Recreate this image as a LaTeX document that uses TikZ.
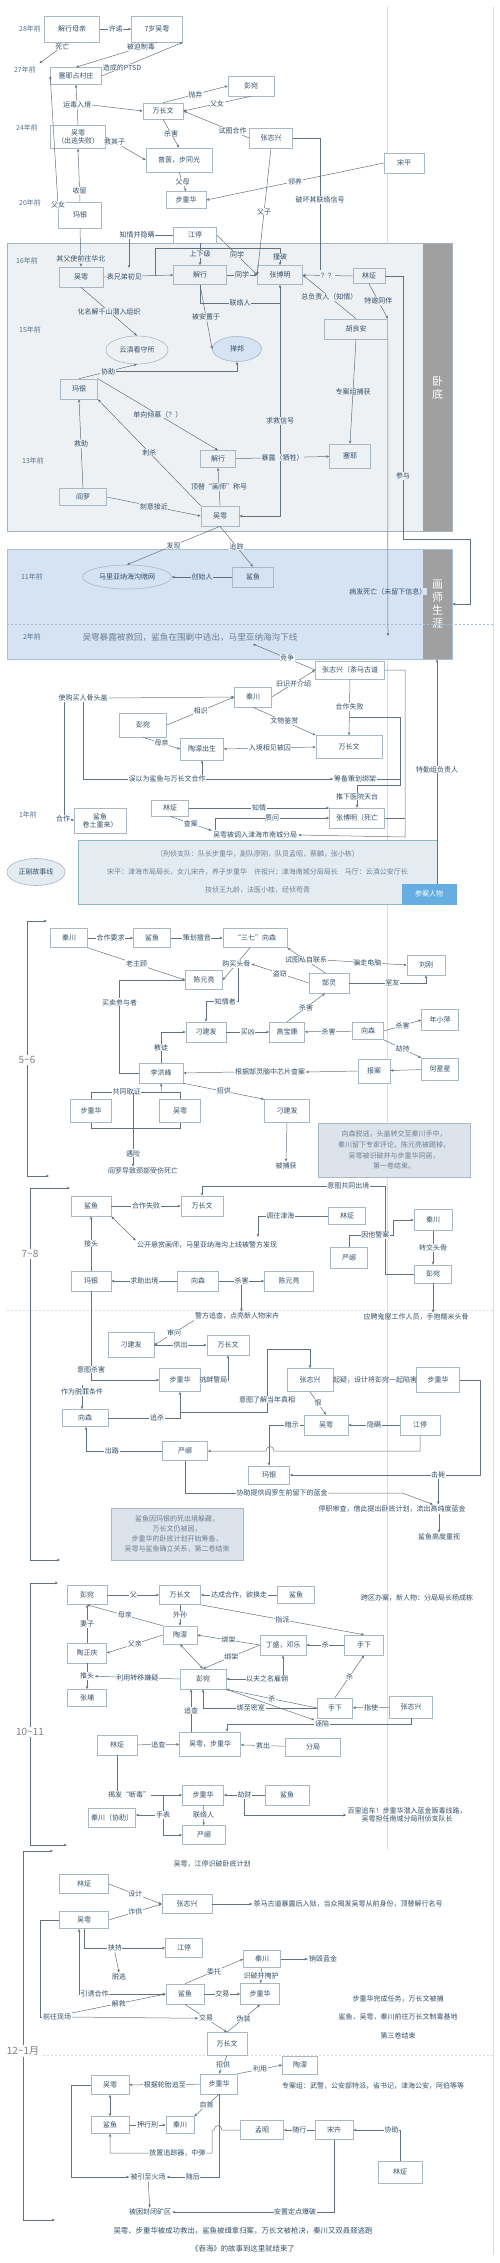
\documentclass[tikz,border=0pt]{standalone}
\usepackage{fontspec}
\setmainfont{Noto Sans CJK SC}
\usetikzlibrary{arrows.meta,shapes.geometric}
\definecolor{boxc}{HTML}{A9B8C5}
\definecolor{linec}{HTML}{62727F}
\definecolor{txtc}{HTML}{34506B}
\definecolor{yrc}{HTML}{5A7590}
\definecolor{panA}{HTML}{EEF1F3}
\definecolor{panAb}{HTML}{A5B2BC}
\definecolor{panB}{HTML}{D5E3F2}
\definecolor{panBb}{HTML}{A6BED6}
\definecolor{barc}{HTML}{A0A0A0}
\definecolor{infoA}{HTML}{E5ECF1}
\definecolor{infoAb}{HTML}{8CB6C2}
\definecolor{infoB}{HTML}{DDE3EA}
\definecolor{infoBb}{HTML}{A8B8C8}
\definecolor{soft}{HTML}{6E8196}
\definecolor{guide}{HTML}{D8DDE2}
\definecolor{blueb}{HTML}{66AEE2}
\newcommand\fs{\fontsize{7}{8.4}\selectfont}

\tikzset{
  box/.style={draw=boxc, fill=white, line width=0.6pt, inner sep=1pt, font=\fs, text=txtc, align=center},
  bx/.style 2 args={box, minimum width=#1pt, minimum height=#2pt},
  oval/.style={ellipse, draw=boxc, line width=0.6pt, inner sep=0pt, font=\fs, text=txtc},
  lbl/.style={fill=white, inner sep=0.6pt, font=\fs, text=txtc},
  lblg/.style={lbl, fill=panA},
  lblb/.style={lbl, fill=panB},
  note/.style={font=\fs, text=txtc, inner sep=1pt, align=center},
  yr/.style={font=\fs, text=yrc},
  ln/.style={draw=linec, line width=0.5pt},
  arr/.style={ln, -{Stealth[length=3.2pt,width=2.6pt]}},
  arrb/.style={ln, {Stealth[length=3.2pt,width=2.6pt]}-{Stealth[length=3.2pt,width=2.6pt]}},
  brk/.style={font=\fontsize{10}{12}\selectfont, text=gray, fill=white, inner sep=1pt},
  bartxt/.style={font=\fontsize{11}{13}\selectfont, text=white, align=center},
}

\begin{document}
\begin{tikzpicture}[x=1pt,y=-1pt]
\useasboundingbox (0,0) rectangle (500,2263);
\fill[white] (0,0) rectangle (500,2263);

% guide lines
\draw[guide, line width=0.6pt] (387,7) -- (387,1849);
\draw[guide, line width=0.6pt] (493,7) -- (493,2255);

% panels
\node[draw=panAb, fill=panA, line width=0.6pt, inner sep=0, minimum width=445pt, minimum height=288pt] (pan1) at (229.5,387) {};
\node[fill=barc, inner sep=0, minimum width=29pt, minimum height=287pt] (bar1) at (437.5,387) {};
\node[bartxt] at (437.5,388) {卧\\底};
\node[draw=panBb, fill=panB, line width=0.6pt, inner sep=0, minimum width=445pt, minimum height=110pt] (pan2) at (229.5,604) {};
\node[fill=barc, inner sep=0, minimum width=29pt, minimum height=109pt] (bar2) at (437.5,604) {};
\node[bartxt] at (437.5,604) {画\\师\\生\\涯};
\draw[panBb, dash pattern=on 2pt off 2pt] (7,624) -- (493,624);

%%%%%%%%%%%%%%%% 28年前 -- 20年前
\node[yr] (y28) at (30,29) {28年前};
\node[yr] (y27) at (25,70) {27年前};
\node[yr] (y24) at (27,128) {24年前};
\node[yr] (y20) at (30,203) {20年前};

\node[bx={55}{26}] (xmq) at (72,29) {解行母亲};
\node[bx={51}{26}] (wy7) at (157,29) {7岁吴雩};
\node[bx={51}{17}] (cz) at (76,76) {塞耶占村庄};
\node[bx={55}{23}] (wyA) at (78,137) {吴雩\\（出逃失败）};
\node[bx={40}{16}] (wcwA) at (163,111) {万长文};
\node[bx={46}{20}] (pwA) at (251,86) {彭宛};
\node[bx={66}{24}] (zy) at (179,160) {曾茵，步同光};
\node[bx={43}{20}] (zzxA) at (271,138) {张志兴};
\node[bx={40}{20}] (sp) at (404,163) {宋平};
\node[bx={40}{17}] (bzhA) at (186,200) {步重华};
\node[bx={43}{26}] (my20) at (80,215) {玛银};

%%%%%%%%%%%%%%%% 16年前 -- 13年前
\node[yr] (y16) at (27,261) {16年前};
\node[yr] (y15) at (30,330) {15年前};
\node[yr] (y13) at (33,461) {13年前};
\node[bx={44}{20}, fill=panA] (wyB) at (81,277) {吴雩};
\node[bx={53}{19}, fill=panA] (xxB) at (200,275) {解行};
\node[bx={43}{16}] (jt1) at (195,235) {江停};
\node[bx={45}{19}, fill=panA] (zbmB) at (280,275) {张博明};
\node[bx={32}{15}, fill=panA] (lzB) at (369,276) {林炡};
\node[bx={63}{20}, fill=panA] (hla) at (356,329) {胡良安};
\node[bx={41}{24}, fill=panA] (sy13) at (350,456) {塞耶};
\node[oval, fill=panA, minimum width=62pt, minimum height=28pt] (ydk) at (137,350) {云滇看守所};
\node[oval, fill=panB, minimum width=49pt, minimum height=25pt] (sb) at (237,349) {掸邦};
\node[bx={37}{20}, fill=panA] (my13) at (79,389) {玛银};
\node[bx={35}{17}, fill=panA] (xx13) at (218,459) {解行};
\node[bx={38}{20}, fill=panA] (wy13) at (220,516) {吴雩};
\node[bx={47}{17}, fill=panA] (yl13) at (83,497) {阎罗};
\node[lbl] (zqyc) at (137,235) {知情并隐瞒};

%%%%%%%%%%%%%%%% 11年前 -- 2年前
\node[yr, fill=panB] (y11) at (32,577) {11年前};
\node[yr] (y2) at (32,637) {2年前};
\node[oval, fill=panB, minimum width=89pt, minimum height=24pt] (mlyn) at (127,577) {马里亚纳海沟暗网};
\node[bx={41}{20}, fill=panB] (sy11) at (253,577) {鲨鱼};
\node[font=\fontsize{8.6}{10}\selectfont, text=soft] (t2n) at (190,637) {吴雩暴露被救回，鲨鱼在围剿中逃出，马里亚纳海沟下线};
\coordinate (jzc) at (253,644);
\coordinate (bfsw) at (388,636);

% top edges
\draw[arr] (xmq) -- node[lbl]{许诺} (wy7);
\draw[arr] ([xshift=-4pt]xmq.south) -- node[lbl,pos=0.2]{死亡} (y27.north east);
\draw[arr] (wy7.south) -- node[lbl,pos=0.2]{被迫制毒} (cz.north);
\draw[arr] (cz.east) -- node[lbl,pos=0.25]{造成的PTSD} (wy7.south east);
\draw[arr] (wyA.north) -- node[lbl](ydrj){运毒入境} (cz.south);
\draw[arr] (ydrj.east) -- (wcwA.west);
\draw[arr] (my20.north) -- node[lbl,pos=0.2]{收留} (wyA.south);
\coordinate (mya) at (58,205);
\draw[arr] (mya) -- (cz.west);
\node[lbl] at (mya) {父女};
\draw[arr] (wcwA.north) -- node[lbl]{抛弃} (pwA.west);
\draw[arr] (pwA.south) -- node[lbl]{父女} (wcwA.east);
\draw[arr] (wcwA.south) -- node[lbl]{杀害} (zy.north);
\draw[arr] (wyA.east) -- node[lbl,pos=0.22]{救其子} (zy.west);
\draw[arr] (zzxA.west) -- node[lbl,pos=0.25]{试图合作} (wcwA.east);
\draw[arr] (zy.south) -- node[lbl]{父母} (bzhA.north);
\draw[arr] (sp.west) -- node[lbl]{领养} (bzhA.east);
\draw[arr] (zzxA.south) -- node[lbl]{父子} (zbmB.west);
\draw[ln] (zzxA.east) -- (320,138) -- node[lbl,pos=0.47]{破坏其联络信号} (320,270);

% 16年前 edges
\draw[arr] (my20.south) -- node[lblg,pos=0.8]{其父使前往华北} (wyB.north);
\draw[arr] (wyB.east) -- node[lblg,pos=0.3]{表兄弟初见} (xxB.west);
\draw[ln] (jt1.west) -- (zqyc.east);
\coordinate (zqd) at (129,268);
\draw[arr] (zqyc.south -| zqd) -- (zqd);
\draw[arr] (jt1.south -| xxB) -- node[lblg]{上下级} (xxB.north);
\draw[arr] (jt1.east) -- node[lblg]{同学} (zbmB.west);
\draw[arr] (xxB) -- node[lblg]{同学} (zbmB);
\coordinate (zp) at (155,276);
\draw[arr] (zp) -- (155,248) -- (280,248) -- node[lblg]{撞破} (zbmB.north);
\draw[arr] (lzB.west) -- node[lblg]{？？} (zbmB.east);
\draw[arr] (lzB.east) -- (403,276) -- node[lblg,pos=0.76]{参与} (403,539) -- (470,539) -- (470,604) -- (pan2.east);
\draw[arr] (lzB.south) -- node[lblg]{特邀同伴} (hla.north east);
\draw[arr] (hla.north) -- node[lblg]{总负责人（知情）} (zbmB.east);
\draw[arr] (hla.south) -- node[lblg]{专案组捕获} (sy13.north);
\draw[arr] (hla.south east) -- node[lblb,pos=0.85]{病发死亡（未留下信息）} (bfsw);
\draw[arr] (xxB.south) -- node[lblg]{被安置于} (sb.west);
\draw[ln] (xxB.south) -- (200,303) -- node[lblg]{联络人} (280,303);
\draw[arrb] (zbmB.south) -- node[lblg,pos=0.59]{求救信号} (280,516) -- (wy13.east);
\draw[arr] (wyB.south) -- node[lblg]{化名解千山潜入组织} (ydk.north);
\draw[arr] (my13.north) -- node[lblg](xz){协助} (ydk.south);
\draw[arr] (xz.east) -| (sb.south);

% 13年前 edges
\draw[arr] (my13.north east) -- node[lblg]{单向倾慕（？）} (xx13.north);
\draw[arr] (xx13) -- node[lblg]{暴露（牺牲）} (sy13);
\draw[arr] (wy13.north) -- node[lblg]{顶替“画师”称号} (xx13.south);
\draw[arr] (yl13.north) -- node[lblg]{救助} (my13.south);
\draw[arr] (wy13.north west) -- node[lblg]{刺杀} (my13.south east);
\draw[arr] (yl13.east) -- node[lblg]{刻意接近} (wy13.west);
\draw[arr] (wy13.south) -- node[lbl]{发现} (mlyn.north);
\draw[arr] (wy13.south) -- node[lbl]{追踪} (sy11.north);
\draw[arr] (sy11) -- node[lblb]{创始人} (mlyn);

%%%%%%%%%%%%%%%% 1年前
\node[yr] (y1) at (28,815) {1年前};
\node[bx={69}{18}] (zzxC) at (350,670) {张志兴（茶马古道};
\node[bx={37}{20}] (qcC) at (253,697) {秦川};
\node[bx={47}{24}] (pwC) at (143,725) {彭宛};
\node[bx={43}{22}] (tmC) at (202,749) {陶濛出生};
\node[bx={66}{23}] (wcwC) at (349,747) {万长文};
\node[note] (gm) at (83,698) {使购买人骨头盖};
\node[bx={37}{16}] (lzC) at (170,808) {林炡};
\node[bx={55}{20}] (zbmC) at (357,818) {张博明（死亡};
\node[bx={52}{25}] (syC) at (100,821) {鲨鱼\\卷土重来）};
\node[note] (wyd) at (255,835) {吴雩被调入津海市南城分局};
\node[lbl] (wyhz) at (167,779) {误以为鲨鱼与万长文合作};
\node[lbl] (cbch) at (355,779) {筹备策划绑架};
\node[lbl] (hz) at (63,819) {合作};

\draw[arr] (zzxC.west) -- node[lbl,pos=0.45]{竞争} (jzc);
\draw[arr] (qcC.east) -- node[lbl]{旧识并介绍} (zzxC.west);
\draw[arr] (gm.east) -- (qcC.west);
\draw[ln] ([xshift=-19pt]gm.south) -- (hz.north -| 64,0);
\draw[arr] (hz.east) -- (syC.west);
\draw[ln] (gm.south) |- (wyhz.west);
\draw[arr] (wyhz.east) -- (cbch.west);
\draw[arr] (wyhz.north -| tmC.south) -- (tmC.south);
\draw[arr] (pwC.east) -- node[lbl]{相识} (qcC.west);
\draw[arr] (pwC.south) -- node[lbl]{母亲} (tmC.west);
\draw[arrb] (wcwC.west) -- node[lbl]{入境相见被囚} (tmC.east);
\draw[arr] (qcC.south) -- node[lbl]{文物鉴赏} (wcwC.north west);
\draw[arr] (zzxC.south) -- node[lbl]{合作失败} (wcwC.north);
\coordinate (hzsb) at (350,717);
\draw[ln] (cbch.east) -- (400,779);
\draw[arr] (hzsb) -| (400,785) -| node[lbl,pos=0.75]{推下医院天台} (zbmC.north);
\draw[arr] (zzxC.east) -- (405,670) -- (405,837) -- (wyd.east);
\draw[ln] (zbmC.east) -- (405,818);
\draw[arr] (lzC.east) -- node[lbl]{知情} (lzC.east -| zbmC.west);
\coordinate (zw) at (215,830);
\draw[arr] (zw) |- node[lbl,pos=0.75]{质问} (zbmC.west);
\draw[arr] (lzC.south) -- node[lbl]{查案} (wyd.north west);

% 正剧故事线
\node[draw=infoAb, fill=infoA, line width=0.9pt, minimum width=359pt, minimum height=64pt, inner sep=0, font=\fontsize{7}{18}\selectfont, text=soft, align=center] (ib1) at (257.5,872) {（刑侦支队：队长步重华，副队廖刚，队员孟昭，蔡麟，张小栋）\\宋平：津海市局局长，女儿宋卉，养子步重华\quad 许祖兴：津海南城分局局长\quad 马厅：云滇公安厅长\\技侦王九龄，法医小桂，经侦苟青};
\node[draw=blueb, fill=blueb, minimum width=54pt, minimum height=20pt, inner sep=0, font=\fs, text=white] (cary) at (429,894) {参案人物};
\node[oval, fill=infoA, minimum width=58pt, minimum height=27pt] (zjx) at (36,872) {正剧故事线};
\coordinate (cq) at (437,884);
\draw[arr] (cq) -- node[lbl,pos=0.51]{特勤组负责人} (cq |- pan2.south);

%%%%%%%%%%%%%%%% 5~6
\node[brk] (b56) at (27,1060) {5\textasciitilde6};
\draw[arr] (b56.north) |- (47,921);
\draw[arr] (b56.south) |- (49,1176);

\node[bx={37}{19}] (qcD) at (69,938) {秦川};
\node[bx={37}{19}] (syD) at (152,938) {鲨鱼};
\node[bx={64}{19}] (sqD) at (255,938) {“三七”向森};
\node[bx={37}{19}] (cylD) at (204,980) {陈元亮};
\node[bx={40}{20}] (glD) at (329,983) {郜灵};
\node[bx={38}{20}] (lgD) at (426,965) {刘刚};
\node[bx={40}{20}] (djfD) at (206,1032) {刁建发};
\node[bx={35}{20}] (gbkD) at (287,1032) {高宝康};
\node[bx={31}{17}] (xsD) at (368,1031) {向森};
\node[bx={37}{21}] (nxpD) at (440,1020) {年小萍};
\node[bx={37}{22}] (hxxD) at (440,1069) {何星星};
\node[bx={32}{24}] (baD) at (374,1071) {报案};
\node[bx={44}{20}] (lhfD) at (161,1073) {李洪峰};
\node[bx={45}{23}] (djf2D) at (287,1111) {刁建发};
\node[bx={41}{23}] (bzhD) at (91,1111) {步重华};
\node[bx={41}{23}] (wyD) at (180,1111) {吴雩};
\node[lbl] (gjgl) at (270,1072) {根据郜灵脑中芯片查案};
\node[note] (bbh) at (286,1166) {被捕获};
\node[note] (yl2) at (143,1171) {阎罗导致颈部受伤死亡};

\draw[arr] (qcD) -- node[lbl]{合作要求} (syD);
\draw[arr] (syD) -- node[lbl]{策划擅音} (sqD);
\draw[arr] (qcD.south east) -- node[lbl]{老主顾} (cylD.west);
\draw[arr] ([xshift=-5pt]sqD.south) -- node[lbl](gmtg){购买头骨} (cylD.east);
\draw[arr] ([xshift=2pt]gmtg.south) |- node[lbl,pos=0.7]{知情者} ([yshift=20pt]djfD.north) -- (djfD.north);
\draw[arr] (glD.west) -- node[lbl]{盗窃} (gmtg.east);
\draw[arr] ([xshift=-4pt]glD.north) -- node[lbl](sslx){试图私自联系} (sqD.south east);
\draw[arr] (sslx.east) -- node[lbl]{骗走电脑} (lgD.west);
\draw[arr] (glD.east) -| node[lbl,pos=0.28]{室友} (lgD.south);
\draw[arr] (djfD) -- node[lbl]{买凶} (gbkD);
\draw[arr] (gbkD.north) -- node[lbl]{杀害} ([xshift=-4pt]glD.south);
\draw[arr] (xsD) -- node[lbl]{杀害} (gbkD);
\draw[arr] (xsD.east) -- node[lbl]{杀害} (nxpD.west);
\draw[arr] (xsD.south east) -- node[lbl]{劫持} (hxxD.north west);
\draw[arr] (hxxD) -- (baD);
\draw[arr] (baD.west) -- (gjgl.east);
\draw[arr] (gjgl.west) -- (lhfD.east);
\draw[arr] (lhfD.north) |- node[lbl,pos=0.25]{教徒} (djfD.west);
\draw[arr] (lhfD.west) -- ++(-19,0) |- node[lbl,pos=0.38]{买卖参与者} (cylD.west);
\draw[arr] (lhfD.south east) -- node[lbl]{招供} (djf2D.north west);
\draw[arr] (djf2D.south) -- (bbh.north);
\draw[ln] (bzhD.north) -- ++(0,-7) -| node[lbl,pos=0.2]{共同取证} (wyD.north);
\coordinate (gq) at (162,1092.5);
\draw[arr] (gq) -- (lhfD.south);
\draw[ln] (bzhD.south) -- ++(0,5) -| (wyD.south);
\coordinate (yx1) at (133,1093);
\draw[arr] (yx1) -- node[lbl,pos=0.82]{遇险} (yl2.north -| yx1);

\node[draw=infoBb, fill=infoB, line width=0.8pt, minimum width=152pt, minimum height=54pt, inner sep=0, font=\fontsize{7}{10.7}\selectfont, text=soft, align=center] (ib2) at (394,1150) {向森脱逃，头盖转交至秦川手中，\\秦川留下专家评论，陈元亮被踢掉，\\吴雩被识破并与步重华同居，\\第一卷结束。};

%%%%%%%%%%%%%%%% 7~8
\node[brk] (b78) at (30,1254) {7\textasciitilde8};
\draw[arr] (b78.north) |- (70,1188);
\draw[arr] (b78.south) |- (60,1560);
\draw[guide, dash pattern=on 2pt off 2pt, line width=0.6pt] (7,1310) -- (493,1310);

\node[bx={40}{20}] (syE) at (91,1206) {鲨鱼};
\node[bx={42}{20}] (wcwE) at (202,1206) {万长文};
\node[bx={37}{17}] (lzE) at (347,1216) {林炡};
\node[bx={38}{21}] (qcE) at (433,1220) {秦川};
\node[bx={37}{21}] (yxE) at (349,1258) {严峫};
\node[bx={37}{18}] (pwE) at (433,1274) {彭宛};
\node[bx={40}{20}] (myE) at (91,1281) {玛银};
\node[bx={41}{20}] (xsE) at (198,1281) {向森};
\node[bx={49}{20}] (cylE) at (289,1281) {陈元亮};
\node[note] (gkxs) at (207,1245) {公开悬赏画师，马里亚纳海沟上线被警方发现};
\node[note] (jfzc) at (237,1316) {警方追查，点亮新人物宋卉};
\node[note] (ygwr) at (416,1317) {应聘鬼屋工作人员，手抱糯米头骨};
\coordinate (tw) at (258,1237);

\draw[arr] (syE) -- node[lbl]{合作失败} (wcwE);
\draw[arr] (pwE.west) -- (385,1274) -- (385,1186) -- node[lbl,pos=0.2]{意图共同出境} (202,1186) -- (wcwE.north);
\draw[arr] (lzE.west) -| node[lbl,pos=0.34]{调往津海} (tw);
\draw[arrb] (syE.south east) -- (gkxs.north west);
\draw[arr] (myE) -- node[lbl]{接头} (syE);
\draw[arr] (xsE) -- node[lbl]{求助出境} (myE);
\draw[arr] (xsE) -- node[lbl](sh2){杀害} (cylE);
\draw[arr] (sh2.south) -- (sh2.south |- jfzc.north);
\draw[arr] (yxE.north) |- node[lbl,pos=0.8]{因他警案} (393,1235) |- (qcE.west);
\draw[arr] (qcE) -- node[lbl]{转交头骨} (pwE);
\draw[arr] (pwE.south) -- (pwE.south |- ygwr.north);

\node[bx={46}{25}] (djfE) at (131,1345) {刁建发};
\node[bx={42}{20}] (wcw2E) at (228,1345) {万长文};
\node[bx={41}{23}] (bzhE) at (180,1380) {步重华};
\node[bx={46}{23}] (zzxE) at (310,1380) {张志兴};
\node[bx={43}{25}] (bzh2E) at (438,1380) {步重华};
\node[bx={46}{17}] (xs2E) at (85,1418) {向森};
\node[bx={44}{20}] (wyE) at (326,1425) {吴雩};
\node[bx={40}{20}] (jtE) at (420,1425) {江停};
\node[bx={45}{19}] (yx2E) at (185,1451) {严峫};
\node[bx={41}{18}] (my2E) at (269,1475) {玛银};
\node[note] (qyxh) at (375,1380) {起疑，设计将彭宛一起陷害};
\node[lbl] (xztg) at (282,1493) {协助提供阎罗生前留下的蓝金};
\node[note] (tz) at (392,1509) {停职审查，借此提出卧底计划，流出高纯度蓝金};
\node[note] (gdzs) at (439,1537) {鲨鱼高度重视};

\draw[arr] (jfzc.south west) -- node[lbl]{审问} (djfE.east);
\draw[arr] (djfE) -- node[lbl]{供出} (wcw2E);
\draw[arr] (bzhE.east) -| node[lbl,pos=0.23]{挑衅警局} (wcw2E.south);
\draw[arr] (myE.south) |- node[lbl,pos=0.44]{意图杀害} (bzhE.west);
\coordinate (zwtj) at (82,1385);
\draw[arr] (zwtj) -- node[lbl,pos=0.3]{作为脱罪条件} ([xshift=-3pt]xs2E.north);
\draw[arr] (xs2E.east) -| node[lbl,pos=0.34]{追杀} (bzhE.south);
\coordinate (ytlj) at (180,1412);
\draw[arr] (ytlj) -| node[lbl,pos=0.6]{意图了解当年真相} (267,1349) -| (zzxE.north);
\draw[arr] (zzxE.south) -- node[lbl]{恨} (wyE.north);
\draw[arr] (jtE) -- node[lbl]{隐瞒} (wyE);
\draw[arr] (wyE.west) -| node[lbl,pos=0.17]{暗示} (my2E.north);
\draw[arr] (jtE.south) |- (274,1451) .. controls (274,1445) and (266,1445) .. (266,1451) -- (yx2E.east);
\draw[arr] (yx2E.west) -| node[lbl,pos=0.33]{出路} ([xshift=1pt]xs2E.south);
\draw[arr] (bzh2E.east) -- (480,1380) |- node[lbl,pos=0.61](jb){击毙} (my2E.east);
\draw[arr] (jb.south) -- (jb.south |- tz.north);
\draw[ln] (yx2E.south) |- (xztg.west);
\draw[arr] (xztg.east) -- ++(74,0) -- ([xshift=41pt]tz.north);
\draw[arr] ([xshift=47pt]tz.south) -- (gdzs.north);

\node[draw=infoBb, fill=infoB, line width=0.8pt, minimum width=132pt, minimum height=52pt, inner sep=0, font=\fontsize{7}{10}\selectfont, text=soft, align=center] (ib3) at (177,1534) {鲨鱼因玛银的死出境躲藏，\\万长文仍被困，\\步重华的卧底计划开始筹备，\\吴雩与鲨鱼确立关系，第二卷结束};

%%%%%%%%%%%%%%%% 10~11
\node[brk] (b1011) at (30,1732) {10\textasciitilde11};
\draw[arr] (b1011.north) |- (58,1583);
\draw[arr] (b1011.south) |- (67,1845);

\node[note] (kqba) at (417,1598) {跨区办案，新人物：分局局长杨成栋};
\node[bx={40}{19}] (pwF) at (87,1595) {彭宛};
\node[bx={41}{19}] (wcwF) at (180,1595) {万长文};
\node[bx={37}{17}] (syF) at (296,1595) {鲨鱼};
\node[bx={39}{20}] (sxF) at (364,1645) {手下};
\node[bx={34}{18}] (tmF) at (180,1635) {陶濛};
\node[bx={39}{20}] (tzqF) at (87,1653) {陶正庆};
\node[bx={46}{20}] (dsF) at (283,1645) {丁盛，邓乐};
\node[bx={46}{20}] (pw2F) at (203,1679) {彭宛};
\node[bx={39}{17}] (zhF) at (87,1698) {张埔};
\node[bx={35}{20}] (sx2F) at (335,1708) {手下};
\node[bx={43}{22}] (zzxF) at (411,1707) {张志兴};
\node[bx={61}{24}] (wybF) at (210,1744) {吴雩，步重华};
\node[bx={40}{20}] (lzF) at (117,1745) {林炡};
\node[bx={55}{18}] (fjF) at (313,1747) {分局};
\node[bx={41}{20}] (bzhF) at (203,1795) {步重华};
\node[bx={44}{20}] (syF2) at (287,1795) {鲨鱼};
\node[bx={47}{19}] (qcF) at (112,1818) {秦川（协助）};
\node[bx={43}{19}] (yxF) at (204,1835) {严峫};
\node[lbl] (wx) at (322,1724) {诬陷};
\node[lbl] (jfdd) at (129,1795) {揭发“断毒”};
\node[note] (blzc) at (407,1815) {百里追车！步重华潜入蓝金贩毒线路，\\吴雩担任南城分局刑侦支队长};
\node[note] (sppj) at (212,1864) {吴雩，江停识破卧底计划};

\draw[arr] (pwF) -- node[lbl]{父} (wcwF);
\draw[arr] (syF) -- node[lbl]{达成合作，欲换走} (wcwF);
\draw[arr] (wcwF.south east) -- node[lbl]{指派} (sxF.north);
\draw[arr] (wcwF) -- node[lbl]{外孙} (tmF);
\draw[arr] (tmF.north west) -- node[lbl]{母亲} (pwF.south);
\draw[arr] (tmF.west) -- node[lbl]{父亲} (tzqF.east);
\draw[arr] (tzqF) -- node[lbl]{妻子} (pwF);
\draw[arr] (dsF.west) -- node[lbl]{绑架} (tmF.east);
\draw[arr] (sxF) -- node[lbl]{杀} (dsF);
\draw[arr] (dsF.west) -- node[lbl]{绑架} (pw2F.north);
\draw[arrb] (pw2F.north) -- (tmF.south);
\draw[arr] (tzqF.south) -- node[lbl](th){推头} (zhF.north);
\draw[arr] (pw2F.west) -- node[lbl]{利用转移嫌疑} (th.east);
\draw[arrb] (pw2F.east) -| node[lbl,pos=0.36]{以夫之名雇佣} (dsF.south);
\draw[arr] (sx2F.north) -- node[lbl]{杀} (sxF.south);
\draw[arr] (sx2F.west) -- node[lbl]{杀} (pw2F.south east);
\draw[arr] (pw2F.south east) -- (wx.north west);
\draw[arr] (zzxF) -- node[lbl]{指使} (sx2F);
\draw[ln] (zzxF.south) |- (wx.east);
\draw[arr] (wx.west) -| ([xshift=17pt]wybF.north);
\draw[arr] (sx2F.west) -| node[lbl,pos=0.29]{绑至密室} (pw2F.south);
\draw[arr] ([xshift=-19pt]wybF.north) -- node[lbl]{追查} ([xshift=-12pt]pw2F.south);
\draw[arr] (lzF) -- node[lbl]{追查} (wybF);
\draw[arr] (fjF) -- node[lbl]{救出} (wybF);
\draw[ln] (lzF.south) -- (lzF.south |- jfdd.north);
\draw[arr] (jfdd.east) -- (bzhF.west);
\coordinate (jd) at (163,1795);
\draw[arr] (jd) |- node[lbl,pos=0.25](shb){手表} (yxF.west);
\draw[arr] (shb.west) -- (shb.west -| qcF.east);
\draw[arr] (syF2) -- node[lbl](jz2){劫财} (bzhF);
\draw[arr] (jz2.south) |- (blzc.west);
\draw[arr] (bzhF) -- node[lbl]{联络人} (yxF);

%%%%%%%%%%%%%%%% 12~1月
\node[brk] (b121) at (23,2051) {12\textasciitilde1月};
\draw[arr] (b121.north) |- (53,1851);
\draw[arr] (b121.south) |- (55,2220);
\draw[guide, dash pattern=on 2pt off 2pt, line width=0.6pt] (43,2055) -- (493,2055);

\node[bx={49}{19}] (lzG) at (84,1884) {林炡};
\node[bx={49}{17}] (wyG) at (84,1920) {吴雩};
\node[bx={50}{19}] (zzxG) at (187,1904) {张志兴};
\node[bx={37}{19}] (jtG) at (184,1948) {江停};
\node[bx={37}{17}] (qcG) at (262,1959) {秦川};
\node[bx={38}{20}] (syG) at (185,1994) {鲨鱼};
\node[bx={39}{21}] (bzhG) at (260,1994) {步重华};
\node[bx={40}{23}] (wcwG) at (227,2044) {万长文};
\node[bx={35}{18}] (tmG) at (300,2065) {陶濛};
\node[bx={37}{20}] (bzh2G) at (219,2084) {步重华};
\node[bx={38}{19}] (wy2G) at (110,2085) {吴雩};
\node[bx={38}{17}] (sy2G) at (110,2125) {鲨鱼};
\node[bx={28}{17}] (qc2G) at (180,2125) {秦川};
\node[bx={43}{19}] (mzG) at (262,2130) {孟昭};
\node[bx={38}{19}] (shG) at (334,2130) {宋卉};
\node[bx={44}{22}] (lz2G) at (400,2172) {林炡};
\node[note] (cmgd) at (348,1904) {茶马古道暴露后入狱，当众揭发吴雩从前身份，顶替解行名号};
\node[note] (tt) at (119,1977) {脱逃};
\node[note] (xhlj) at (323,1959) {销毁蓝金};
\node[lbl] (qwxc) at (57,2017) {前往现场};
\node[note, align=center, font=\fontsize{7}{18.5}\selectfont] (js3) at (398,2017) {步重华完成任务，万长文被捕\\鲨鱼，吴雩，秦川前往万长文制毒基地\\第三卷结束};
\node[note] (zaz) at (373,2086) {专案组：武警，公安部特派，省书记，津海公安，阿伯等等};
\node[note] (byzhc) at (148,2177) {被引至火场};
\node[note] (bkfb) at (150,2212) {被困封闭矿区};

\draw[arr] (lzG.east) -- node[lbl]{设计} (zzxG.west);
\draw[arr] (wyG.east) -- node[lbl]{诈供} (zzxG.west);
\draw[arr] (zzxG.east) -- (cmgd.west);
\draw[ln] (wyG.west) -- ++(-19,0) |- (qwxc.west);
\draw[arr] (wyG.south) |- node[lbl,pos=0.69](xc){挟持} (jtG.west);
\draw[arr] (xc.south) -- (tt.north);
\draw[arr] (qcG) -- (xhlj);
\draw[arr] (syG.north) -- node[lbl]{委托} (qcG.west);
\draw[arr] (qcG) -- node[lbl]{识破并掩护} (bzhG);
\draw[arr] (syG) -- node[lbl]{交易} (bzhG);
\draw[arrb] ([xshift=-5pt]wyG.south) |- node[lbl,pos=0.59]{引诱合作} (syG.west);
\draw[arr] (qwxc.north east) -- node[lbl]{解救} (syG.west);
\draw[arr] (syG.south) -- node[lbl](jy2){交易} (wcwG.north);
\draw[arr] (qwxc.east) -- (jy2.west);
\draw[arr] (wcwG.north) -- node[lbl]{伪装} (bzhG.south);
\draw[arr] (wcwG.south) -- node[lbl]{招供} (bzh2G.north);
\draw[arr] (bzh2G.north east) -- node[lbl]{利用} (tmG.west);
\draw[arr] (bzh2G) -- node[lbl]{根据轮胎追至} (wy2G);
\draw[arrb] (wy2G) -- (sy2G);
\draw[arr] (sy2G) -- node[lbl]{押行刑} (qc2G);
\draw[arr] (bzh2G.south) -- node[lbl]{自首} (qc2G.north east);
\draw[arr] (shG) -- node[lbl]{随行} (mzG);
\draw[arr] (lz2G.north) |- node[lbl,pos=0.59]{协助} (shG.east);
\draw[arr] (mzG.west) -- (222,2130) .. controls (222,2124) and (214,2124) .. (214,2130) -- (212,2130) -- (212,2153) -- node[lbl,pos=0.34]{放置追踪器，中弹} (110,2153) -- (sy2G.south);
\draw[arr] (bzh2G.south) |- node[lbl,pos=0.75]{随后} (byzhc.east);
\draw[arr] (wy2G.west) -- ++(-19,0) |- (byzhc.west);
\draw[arr] (byzhc) -- (bkfb);
\draw[arr] (shG.south) |- node[lbl,pos=0.62]{安置定点爆破} (bkfb.east);

\node[note, font=\fontsize{7.4}{9}\selectfont] (end1) at (243,2231) {吴雩、步重华被成功救出，鲨鱼被缉拿归案，万长文被枪决，秦川又双叒叕逃跑};
\node[note, font=\fontsize{7.4}{9}\selectfont] (end2) at (243,2249) {《吞海》的故事到这里就结束了};

\end{tikzpicture}
\end{document}
